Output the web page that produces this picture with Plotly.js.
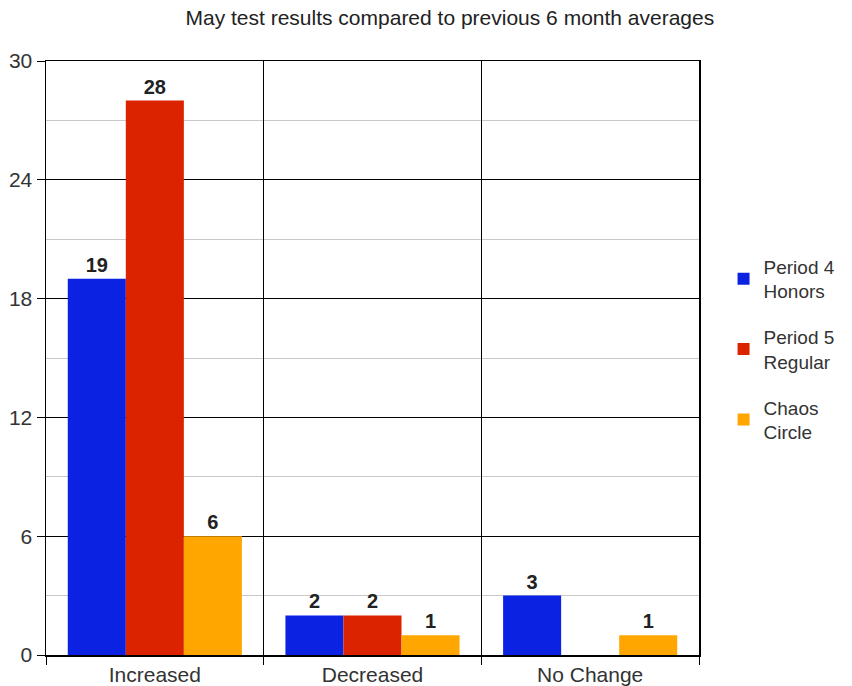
<!DOCTYPE html>
<html>
<head>
<meta charset="utf-8">
<script src="https://cdn.plot.ly/plotly-3.0.1.min.js"></script>
<style>html,body{margin:0;padding:0;background:#fff;}#chart{width:852px;height:686px;}</style>
</head>
<body>
<div id="chart"></div>
<script>
// Categories and per-class counts
const categories = ["Increased", "Decreased", "No Change"];
const seriesNames = ["Period 4<br>Honors", "Period 5<br>Regular", "Chaos<br>Circle"];
const period4 = [19, 2, 3];
const period5 = [28, 2, 0];
const chaos = [6, 1, 1];
const yTicks = [0, 6, 12, 18, 24, 30];

const colors = ["#0b22e3", "#dc2300", "#ffa600"];
const seriesValues = [period4, period5, chaos];

const traces = seriesValues.map((vals, i) => ({
  type: "bar",
  name: seriesNames[i],
  legendgroup: "g" + i,
  x: categories,
  y: vals,
  text: vals.map(v => v > 0 ? String(v) : ""),
  textposition: "outside",
  cliponaxis: false,
  textfont: {family: "Liberation Sans, Arial, sans-serif", size: 20, color: "#222", weight: "bold"},
  marker: {color: colors[i], line: {width: 0}},
  hoverinfo: "x+y"
}));

const layout = {
  width: 852,
  height: 686,
  margin: {l: 46, r: 152, t: 61, b: 31, pad: 0},
  paper_bgcolor: "#fff",
  plot_bgcolor: "#fff",
  font: {family: "Liberation Sans, Arial, sans-serif", color: "#333", size: 19},
  title: {
    text: "May test results compared to previous 6 month averages",
    font: {size: 21, color: "#222"},
    x: 0.528, xref: "container", xanchor: "center",
    y: 0.975, yref: "container", yanchor: "middle"
  },
  barmode: "group",
  bargap: 0.2,
  bargroupgap: 0,
  showlegend: true,
  legend: {
    x: 1.036, xanchor: "left",
    y: 0.686, yanchor: "top",
    font: {size: 19, color: "#333"},
    tracegroupgap: 18,
    itemwidth: 30,
    traceorder: "grouped"
  },
  xaxis: {
    type: "category",
    tickson: "boundaries",
    showgrid: true,
    gridcolor: "#000",
    gridwidth: 1,
    ticks: "outside",
    ticklen: 8,
    tickcolor: "#000",
    showline: true,
    linecolor: "#000",
    linewidth: 1.5,
    mirror: true,
    tickfont: {size: 21, color: "#333"}
  },
  yaxis: {
    range: [0, 30],
    tickvals: yTicks,
    ticktext: yTicks.map(String),
    showgrid: true,
    gridcolor: "#000",
    gridwidth: 1,
    minor: {dtick: 3, showgrid: true, gridcolor: "#c8c8c8", gridwidth: 1},
    ticks: "outside",
    ticklen: 8,
    tickcolor: "#000",
    showline: true,
    linecolor: "#000",
    linewidth: 1.5,
    mirror: true,
    zeroline: false,
    tickfont: {size: 21, color: "#333"}
  }
};

Plotly.newPlot("chart", traces, layout, {displayModeBar: false, staticPlot: true});
</script>
</body>
</html>
